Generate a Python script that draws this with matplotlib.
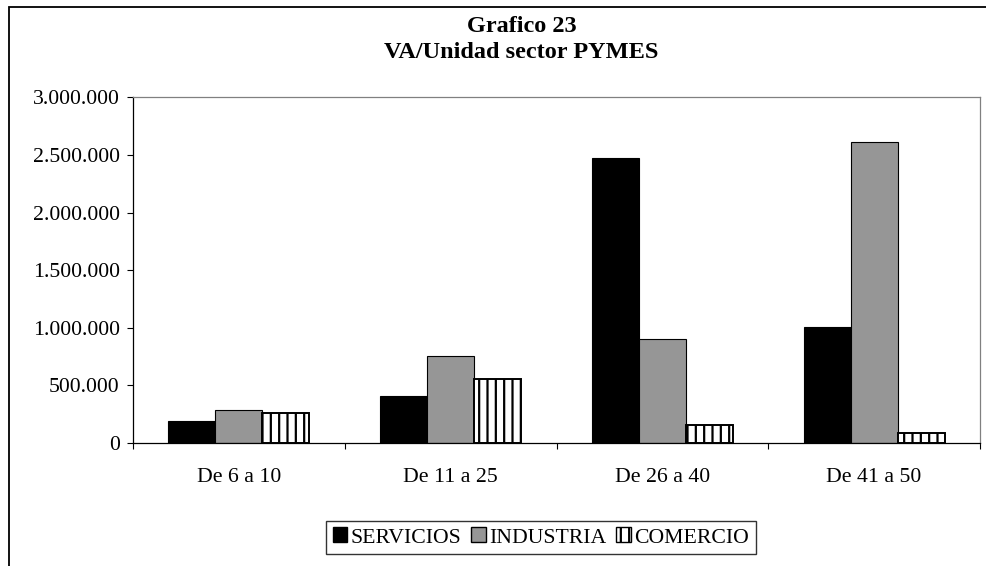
import numpy as np
import matplotlib
matplotlib.use('Agg')
import matplotlib.pyplot as plt
from matplotlib.patches import Patch, Rectangle
from matplotlib.ticker import FuncFormatter, FixedLocator

categories = ['De 6 a 10', 'De 11 a 25', 'De 26 a 40', 'De 41 a 50']
series_names = ['SERVICIOS', 'INDUSTRIA', 'COMERCIO']
servicios = [193000, 409000, 2470000, 1010000]
industria = [288000, 755000, 903000, 2615000]
comercio = [257000, 559000, 156000, 86000]
title_lines = ['Grafico 23', 'VA/Unidad sector PYMES']

plt.rcParams['font.family'] = ['Liberation Serif', 'DejaVu Serif']
plt.rcParams['hatch.linewidth'] = 1.6
plt.rcParams['hatch.color'] = 'black'

W, H = 986, 566
FS = 15.7
fig = plt.figure(figsize=(W / 100, H / 100), dpi=100)

# outer chart border (runs off the right and bottom edge)
fig.patches.append(Rectangle((9 / W, -0.1), 1.2, 1.1 - 7 / H, transform=fig.transFigure,
                             fill=False, edgecolor='black', linewidth=1.3))

ax = fig.add_axes([133 / W, 1 - 443 / H, (980 - 133) / W, (443 - 97.4) / H])

x = np.arange(len(categories))
w = 1 / 4.5
ax.bar(x - w, servicios, w, color='black', edgecolor='black', linewidth=0.8)
ax.bar(x, industria, w, color='#969696', edgecolor='black', linewidth=0.8)
ax.bar(x + w, comercio, w, color='white', edgecolor='black', linewidth=1.4, hatch='||')

ax.set_xlim(-0.5, len(categories) - 0.5)
ax.set_ylim(0, 3000000)
ax.set_yticks(np.arange(0, 3000001, 500000))
ax.yaxis.set_major_formatter(FuncFormatter(lambda v, p: f'{int(v):,}'.replace(',', '.')))
ax.tick_params(axis='y', direction='out', length=4.5, width=0.8, pad=5, labelsize=FS)

# category boundaries as major ticks, labels on minor ticks
ax.xaxis.set_major_locator(FixedLocator(np.arange(-0.5, len(categories), 1.0)))
ax.xaxis.set_minor_locator(FixedLocator(x))
ax.xaxis.set_major_formatter(FuncFormatter(lambda v, p: ''))
ax.set_xticklabels(categories, minor=True)
ax.tick_params(axis='x', which='major', direction='out', length=4.5, width=0.8)
ax.tick_params(axis='x', which='minor', length=0, pad=18, labelsize=FS)

for side in ['top', 'right']:
    ax.spines[side].set_color('#808080')
for side in ['left', 'bottom']:
    ax.spines[side].set_color('black')
for s in ax.spines.values():
    s.set_linewidth(0.9)

cx = 521.5 / W
fig.text(cx, 1 - 27 / H, title_lines[0], ha='center', va='center', fontsize=17.5, fontweight='bold')
fig.text(cx, 1 - 52 / H, title_lines[1], ha='center', va='center', fontsize=17.5, fontweight='bold')

handles = [Patch(facecolor='black', edgecolor='black'),
           Patch(facecolor='#969696', edgecolor='black'),
           Patch(facecolor='white', edgecolor='black', hatch='||')]
leg = fig.legend(handles, series_names, loc='center', bbox_to_anchor=(541 / W, 1 - 537.5 / H),
                 ncol=3, fontsize=FS, frameon=True, fancybox=False, handlelength=0.68,
                 handleheight=0.68, handletextpad=0.15, columnspacing=0.45, borderpad=0.3,
                 borderaxespad=0)
leg.get_frame().set_edgecolor('black')
leg.get_frame().set_linewidth(1.0)

fig.savefig('out.png', dpi=100)
